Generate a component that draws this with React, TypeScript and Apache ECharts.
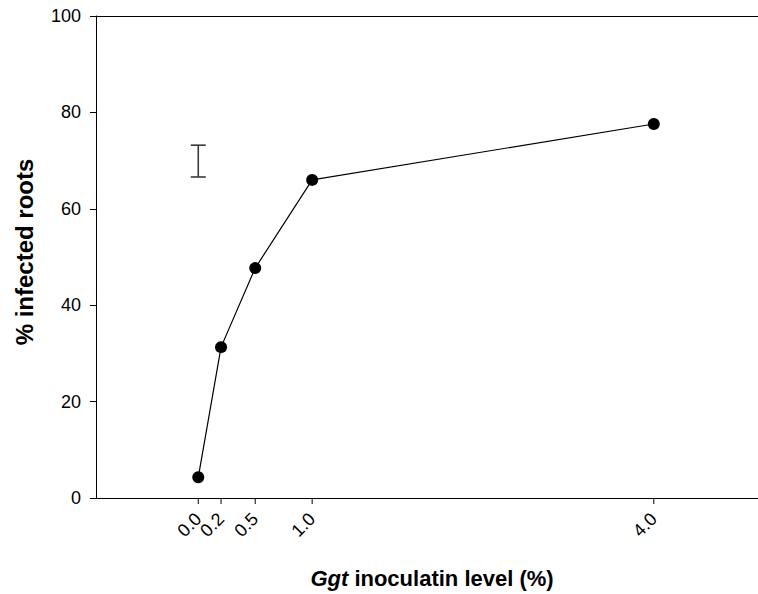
import React, { useEffect, useRef } from "react";
import * as echarts from "echarts";

const xValues = [0.0, 0.2, 0.5, 1.0, 4.0];
const yValues = [4.3, 31.3, 47.7, 66.0, 77.6];
const xTickValues = [0.0, 0.2, 0.5, 1.0, 4.0];
const xTickLabels = ["0.0", "0.2", "0.5", "1.0", "4.0"];
const yTicks = [0, 20, 40, 60, 80, 100];
const errorBar = { x: 0.0, low: 66.6, high: 73.2 };

export default function App() {
  const ref = useRef<HTMLDivElement>(null);
  useEffect(() => {
    if (!ref.current) return;
    const chart = echarts.init(ref.current, null, { renderer: "svg" });
    const font = "Liberation Sans, Arial, sans-serif";
    const xMin = -0.898;
    const xMax = 4.915;
    chart.setOption({
      animation: false,
      backgroundColor: "#ffffff",
      grid: {
        left: 96,
        top: 16,
        bottom: 96,
        right: 0,
        show: false,
      },
      xAxis: [
        {
          type: "value",
          min: xMin,
          max: xMax,
          splitLine: { show: false },
          axisLine: { show: true, onZero: false, lineStyle: { color: "#000", width: 1 } },
          axisTick: { show: false },
          axisLabel: { show: false },
        },
        {
          type: "value",
          position: "top",
          min: xMin,
          max: xMax,
          splitLine: { show: false },
          axisLine: { show: true, onZero: false, lineStyle: { color: "#000", width: 1 } },
          axisTick: { show: false },
          axisLabel: { show: false },
        },
      ],
      yAxis: {
        type: "value",
        min: 0,
        max: 100,
        interval: 20,
        splitLine: { show: false },
        axisLine: { show: true, onZero: false, lineStyle: { color: "#000", width: 1 } },
        axisTick: { show: true, length: 6, lineStyle: { color: "#000" } },
        axisLabel: {
          color: "#000",
          fontSize: 18,
          fontFamily: font,
          margin: 15,
          formatter: (v: number) => (yTicks.includes(v) ? String(v) : ""),
        },
      },
      series: [
        {
          type: "line",
          xAxisIndex: 0,
          data: xValues.map((x, i) => [x, yValues[i]]),
          symbol: "circle",
          symbolSize: 12,
          lineStyle: { color: "#000", width: 1.2 },
          itemStyle: { color: "#000" },
          z: 3,
        },
        {
          type: "custom",
          xAxisIndex: 0,
          clip: false,
          silent: true,
          data: xTickValues.map((v, i) => [v, 0, i]),
          renderItem: (params: any, api: any) => {
            const p = api.coord([api.value(0), 0]);
            const idx = api.value(2);
            return {
              type: "group",
              children: [
                {
                  type: "line",
                  shape: { x1: p[0], y1: p[1], x2: p[0], y2: p[1] + 6 },
                  style: { stroke: "#000", lineWidth: 1 },
                },
                {
                  type: "text",
                  x: p[0],
                  y: p[1] + 18,
                  rotation: Math.PI / 4,
                  style: {
                    text: xTickLabels[idx],
                    fill: "#000",
                    font: `18px ${font}`,
                    align: "right",
                    verticalAlign: "middle",
                  },
                },
              ],
            };
          },
        },
        {
          type: "custom",
          xAxisIndex: 0,
          data: [[errorBar.x, errorBar.low, errorBar.high]],
          renderItem: (params: any, api: any) => {
            const x = api.value(0);
            const lo = api.coord([x, api.value(1)]);
            const hi = api.coord([x, api.value(2)]);
            const hw = 7.5;
            const style = { stroke: "#3a3a3a", lineWidth: 1.6 };
            return {
              type: "group",
              children: [
                { type: "line", shape: { x1: lo[0], y1: lo[1], x2: hi[0], y2: hi[1] }, style },
                { type: "line", shape: { x1: lo[0] - hw, y1: lo[1], x2: lo[0] + hw, y2: lo[1] }, style },
                { type: "line", shape: { x1: hi[0] - hw, y1: hi[1], x2: hi[0] + hw, y2: hi[1] }, style },
              ],
            };
          },
        },
      ],
      graphic: [
        {
          type: "text",
          x: 432,
          y: 578,
          style: {
            text: "{i|Ggt} inoculatin level (%)",
            fill: "#000",
            font: `bold 22px ${font}`,
            align: "center",
            verticalAlign: "middle",
            rich: {
              i: { fontStyle: "italic", fontWeight: "bold", fontSize: 22, fontFamily: font, fill: "#000" },
            },
          },
        },
        {
          type: "text",
          x: 24,
          y: 252,
          rotation: Math.PI / 2,
          style: {
            text: "% infected roots",
            fill: "#000",
            font: `bold 24px ${font}`,
            align: "center",
            verticalAlign: "middle",
          },
        },
      ],
    });
    return () => chart.dispose();
  }, []);
  return (
    <div
      ref={ref}
      style={{ position: "absolute", left: 0, top: 0, width: 758, height: 594 }}
    />
  );
}
